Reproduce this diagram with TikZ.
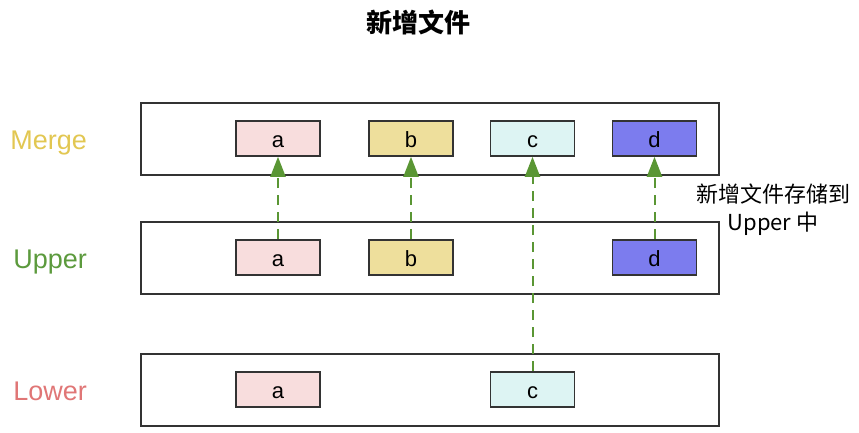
\documentclass[tikz,border=0pt]{standalone}
\usepackage{fontspec}
\setmainfont{Liberation Sans}
\newfontfamily\cjk{Noto Sans CJK SC}
\usepackage{tikz}
\usetikzlibrary{positioning,arrows.meta}
\definecolor{MergeYellow}{HTML}{E2C752}
\definecolor{UpperGreen}{HTML}{5C9A3D}
\definecolor{LowerRed}{HTML}{E07676}
\definecolor{FileA}{HTML}{F8DDDD}
\definecolor{FileB}{HTML}{EEDF9C}
\definecolor{FileC}{HTML}{DDF4F3}
\definecolor{FileD}{HTML}{7C7CEE}
\definecolor{ArrowGreen}{HTML}{5A9634}
\definecolor{EdgeGray}{HTML}{333333}

\begin{document}
\begin{tikzpicture}[x=1pt,y=1pt]
  \tikzstyle{layer}=[draw=EdgeGray,line width=2pt,minimum width=578pt,minimum height=72pt]
  \tikzstyle{filebox}=[draw=EdgeGray,line width=1.6pt,minimum width=84pt,minimum height=35pt,
    inner sep=0pt,text height=19pt,text depth=0pt,font=\fontsize{22}{26}\selectfont]
  \tikzstyle{layername}=[font=\fontsize{27}{32}\selectfont,inner sep=0pt,
    text height=22pt,text depth=0pt]
  \tikzstyle{copyup}=[-{Triangle[width=15pt,length=20pt]},ArrowGreen,line width=2pt,
    dash pattern=on 10pt off 7pt]
  \useasboundingbox (0,0) rectangle (859,433);
  \node[font=\cjk\bfseries\fontsize{26}{30}\selectfont] (title) at (418,411) {新增文件};
  % three layers
  \node[layer] (mergeL) at (430,294) {};
  \node[layer] (upperL) at (430,175) {};
  \node[layer] (lowerL) at (430,43) {};
  \node[layername,text=MergeYellow,left=53pt of mergeL] (mergeN) {Merge};
  \node[layername,text=UpperGreen,left=53pt of upperL] (upperN) {Upper};
  \node[layername,text=LowerRed,left=53pt of lowerL] (lowerN) {Lower};
  % files
  \node[filebox,fill=FileA] (ma) at (278,294.5) {a};
  \node[filebox,fill=FileB] (mb) at (411,294.5) {b};
  \node[filebox,fill=FileC] (mc) at (532.5,294.5) {c};
  \node[filebox,fill=FileD] (md) at (654.5,294.5) {d};
  \node[filebox,fill=FileA] (ua) at (278,175.5) {a};
  \node[filebox,fill=FileB] (ub) at (411,175.5) {b};
  \node[filebox,fill=FileD] (ud) at (654.5,175.5) {d};
  \node[filebox,fill=FileA] (la) at (278,43.5) {a};
  \node[filebox,fill=FileC] (lc) at (532.5,43.5) {c};
  \draw[copyup] (ua.north)--(ma.south);
  \draw[copyup] (ub.north)--(mb.south);
  \draw[copyup] (lc.north)--(mc.south);
  \draw[copyup] (ud.north)--(md.south);
  \node[align=center,font=\cjk\fontsize{22}{28}\selectfont] (note) at (773,223)
    {新增文件存储到\\Upper 中};
\end{tikzpicture}
\end{document}
